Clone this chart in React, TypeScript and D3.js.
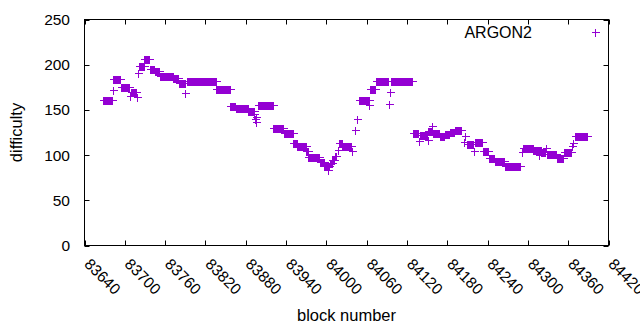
import React from 'react';
import * as d3 from 'd3';

// difficulty runs: first block, last block, difficulty
const runStart = [
  83668, 83682, 83683, 83695, 83708, 83709, 83718, 83719, 83721, 83729,
  83737, 83745, 83752, 83772, 83780, 83790, 83792, 83836, 83857, 83865,
  83884, 83893, 83894, 83895, 83896, 83898, 83921, 83937, 83951, 83957,
  83970, 83973, 83990, 83997, 84002, 84003, 84005, 84009, 84013, 84017,
  84019, 84024, 84038, 84042, 84046, 84048, 84063, 84064, 84065, 84074,
  84093, 84095, 84096, 84129, 84138, 84139, 84151, 84152, 84157, 84158,
  84159, 84169, 84176, 84184, 84191, 84205, 84207, 84209, 84220, 84221,
  84233, 84242, 84251, 84266, 84291, 84292, 84308, 84316, 84317, 84320,
  84327, 84328, 84343, 84354, 84366, 84367, 84370,
];
const runEnd = [
  83681, 83682, 83693, 83706, 83708, 83716, 83718, 83719, 83728, 83736,
  83744, 83751, 83771, 83779, 83789, 83790, 83835, 83856, 83864, 83883,
  83892, 83893, 83894, 83895, 83896, 83920, 83936, 83950, 83956, 83969,
  83972, 83989, 83996, 84001, 84002, 84004, 84008, 84012, 84015, 84017,
  84023, 84037, 84038, 84042, 84046, 84062, 84063, 84064, 84073, 84092,
  84093, 84095, 84128, 84137, 84138, 84150, 84151, 84156, 84157, 84158,
  84168, 84175, 84183, 84190, 84201, 84205, 84207, 84219, 84220, 84232,
  84241, 84250, 84265, 84289, 84291, 84307, 84315, 84316, 84319, 84326,
  84327, 84342, 84353, 84364, 84366, 84367, 84388,
];
const runValue = [
  161, 172, 184, 175, 165, 170, 164, 191, 199, 206,
  195, 193, 187, 185, 180, 169, 182, 173, 154, 152,
  149, 145, 140, 137, 142, 155, 130, 124, 113, 110,
  104, 98, 92, 88, 84, 88, 91, 95, 99, 106,
  113, 110, 104, 128, 140, 161, 155, 161, 173, 182,
  157, 170, 182, 125, 116, 122, 117, 127, 132, 127,
  124, 121, 123, 126, 128, 115, 121, 112, 105, 114,
  105, 97, 94, 88, 103, 108, 106, 100, 106, 103,
  108, 101, 97, 103, 110, 113, 121,
];

const xTicks = [83640, 83700, 83760, 83820, 83880, 83940, 84000, 84060, 84120, 84180, 84240, 84300, 84360, 84420];
const yTicks = [0, 50, 100, 150, 200, 250];
const seriesName = 'ARGON2';

const W = 640, H = 330;
const left = 84.5, right = 608.5, top = 19.5, bottom = 245.5;
const font = '"Liberation Sans", Arial, sans-serif';
const color = '#9400d3';

export default function App() {
  const points: { block: number; value: number }[] = [];
  runStart.forEach((s, i) => {
    for (let b = s; b <= runEnd[i]; b++) points.push({ block: b, value: runValue[i] });
  });

  const x = d3.scaleLinear().domain([83640, 84420]).range([left, right]);
  const y = d3.scaleLinear().domain([0, 250]).range([bottom, top]);

  const plus = (cx: number, cy: number) => {
    const px = Math.round(cx) + 0.5, py = Math.round(cy) + 0.5;
    return `M${px - 4},${py}h8M${px},${py - 4}v8`;
  };
  const marks = points.map(p => plus(x(p.block), y(p.value))).join('');

  return (
    <div style={{ position: 'absolute', left: 0, top: 0 }}>
      <svg width={W} height={H} style={{ display: 'block', background: '#fff' }} fontFamily={font}>
        <rect x={0} y={0} width={W} height={H} fill="#fff" />
        {yTicks.map(t => (
          <g key={t}>
            <path d={`M${left},${Math.round(y(t)) + 0.5}h5M${right},${Math.round(y(t)) + 0.5}h-5`} stroke="#000" />
            <text x={70} y={y(t)} dy="0.35em" textAnchor="end" fontSize={15.5}>{t}</text>
          </g>
        ))}
        {xTicks.map(t => (
          <g key={t}>
            <path d={`M${Math.round(x(t)) + 0.5},${bottom}v-5M${Math.round(x(t)) + 0.5},${top}v5`} stroke="#000" />
            <text transform={`translate(${x(t) - 1},${265}) rotate(45)`} fontSize={15.5}>{t}</text>
          </g>
        ))}
        <rect x={left} y={top} width={right - left} height={bottom - top} fill="none" stroke="#000" />
        <path d={marks} stroke={color} strokeWidth={1} fill="none" shapeRendering="crispEdges" />
        <text x={532} y={32} dy="0.35em" textAnchor="end" fontSize={16}>{seriesName}</text>
        <path d={plus(595, 32)} stroke={color} strokeWidth={1} shapeRendering="crispEdges" />
        <text transform={`translate(22,${(top + bottom) / 2}) rotate(-90)`} textAnchor="middle" fontSize={16.5}>difficulty</text>
        <text x={(left + right) / 2} y={321} textAnchor="middle" fontSize={16.5}>block number</text>
      </svg>
    </div>
  );
}
